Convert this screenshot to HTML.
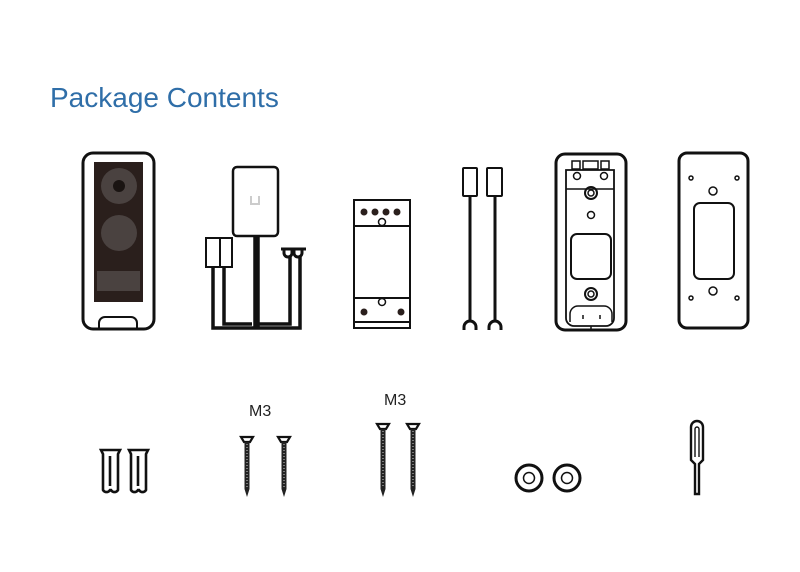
<!DOCTYPE html>
<html><head><style>body{margin:0;background:#fff}svg{display:block}</style></head><body>
<svg width="800" height="572" xmlns="http://www.w3.org/2000/svg" fill="none" stroke="#111" stroke-width="2.5">
<text x="50" y="107" font-family="Liberation Sans, sans-serif" font-size="28" fill="#2f6ea8" stroke="none">Package Contents</text>
<!-- doorbell -->
<rect x="83" y="153" width="71" height="176" rx="10" stroke-width="3"/>
<rect x="94" y="162" width="49" height="140" fill="#2a1f1c" stroke="none"/>
<circle cx="119" cy="186" r="18" fill="#4a4240" stroke="none"/>
<circle cx="119" cy="186" r="6" fill="#1a1412" stroke="none"/>
<circle cx="119" cy="233" r="18" fill="#4a4240" stroke="none"/>
<rect x="97" y="271" width="43" height="20" fill="#4a4240" stroke="none"/>
<path d="M99 328 v-5 a6 6 0 0 1 6 -6 h26 a6 6 0 0 1 6 6 v5" stroke-width="2"/>
<!-- adapter -->
<rect x="233" y="167" width="45" height="69" rx="4" stroke-width="2.5"/>
<path d="M251 196 v8 h8 v-8" stroke="#ccc" stroke-width="2"/>
<rect x="206" y="238" width="14" height="29" stroke-width="2"/><rect x="220" y="238" width="12" height="29" stroke-width="2"/>
<path d="M213 267 V328 H255 V236 M224 267 V324 H252 M258 236 V328 H300 V257 M259 324 H290 V257" stroke-width="3.5"/>
<path d="M281 249 h25 M284 249 v4 a4 4 0 0 0 8 0 v-4 M294 249 v4 a4 4 0 0 0 8 0 v-4" stroke-width="3"/>
<!-- module -->
<rect x="354" y="200" width="56" height="128" stroke-width="2"/>
<path d="M354 226 H410 M354 298 H410 M354 322 H410" stroke-width="2"/>
<g fill="#2a1f1c" stroke="none"><circle cx="364" cy="212" r="3.5"/><circle cx="375" cy="212" r="3.5"/><circle cx="386" cy="212" r="3.5"/><circle cx="397" cy="212" r="3.5"/><circle cx="364" cy="312" r="3.5"/><circle cx="401" cy="312" r="3.5"/></g>
<circle cx="382" cy="222" r="3.5" fill="#fff" stroke-width="1.5"/><circle cx="382" cy="302" r="3.5" fill="#fff" stroke-width="1.5"/>
<!-- wires -->
<rect x="463" y="168" width="14" height="28" rx="1" stroke-width="2"/><rect x="487" y="168" width="15" height="28" rx="1" stroke-width="2"/>
<path d="M470 196 V322 M495 196 V322" stroke-width="3"/>
<path d="M464 330 v-3 a6 6 0 0 1 12 0 v3 M489 330 v-3 a6 6 0 0 1 12 0 v3" stroke-width="3"/>
<!-- back plate -->
<rect x="556" y="154" width="70" height="176" rx="9" stroke-width="3"/>
<path d="M566 318 V170 h48 V318 a8 8 0 0 1 -8 8 h-32 a8 8 0 0 1 -8 -8z" stroke-width="1.8"/>
<path d="M566 189 H614" stroke-width="1.5"/>
<rect x="572" y="161" width="8" height="8" stroke-width="1.5"/><rect x="583" y="161" width="15" height="8" stroke-width="1.5"/><rect x="601" y="161" width="8" height="8" stroke-width="1.5"/>
<circle cx="577" cy="176" r="3.5" stroke-width="1.5"/><circle cx="604" cy="176" r="3.5" stroke-width="1.5"/>
<circle cx="591" cy="193" r="6" stroke-width="2"/><circle cx="591" cy="193" r="3" stroke-width="1.5"/>
<circle cx="591" cy="215" r="3.5" stroke-width="1.5"/>
<rect x="571" y="234" width="40" height="45" rx="6" stroke-width="2"/>
<circle cx="591" cy="294" r="6" stroke-width="2"/><circle cx="591" cy="294" r="3" stroke-width="1.5"/>
<path d="M570 322 v-8 a8 8 0 0 1 8 -8 h26 a8 8 0 0 1 8 8 v8" stroke-width="1.5"/>
<path d="M583 315 v4 M600 315 v4 M591 326 v4" stroke-width="1.5"/>
<!-- flat plate -->
<rect x="679" y="153" width="69" height="175" rx="8" stroke-width="3"/>
<rect x="694" y="203" width="40" height="76" rx="6" stroke-width="2"/>
<g stroke-width="1.5"><circle cx="691" cy="178" r="2"/><circle cx="737" cy="178" r="2"/><circle cx="691" cy="298" r="2"/><circle cx="737" cy="298" r="2"/><circle cx="713" cy="191" r="4"/><circle cx="713" cy="291" r="4"/></g>
<!-- anchors -->
<g stroke-width="2.6">
<path d="M101 450 h19 l-2 4 v36 a4 4 0 0 1 -7 0 h-1 a4 4 0 0 1 -7 0 v-36z"/><path d="M110 456 v30"/>
<path d="M129 450 h19 l-2 4 v36 a4 4 0 0 1 -7 0 h-1 a4 4 0 0 1 -7 0 v-36z"/><path d="M138 456 v30"/>
</g>
<g font-family="Liberation Sans, sans-serif" font-size="16" fill="#222" stroke="none"><text x="249" y="416">M3</text><text x="384" y="405">M3</text></g>
<!-- screws -->
<g stroke-width="2.2">
<path d="M241 437 h12 l-3 5 h-6z"/>
<path d="M278 437 h12 l-3 5 h-6z"/>
<path d="M377 424 h12 l-3 5 h-6z"/>
<path d="M407 424 h12 l-3 5 h-6z"/>
</g>
<g fill="#222" stroke="none">
<path d="M244.5 442 h5 V489 l-2.5 8 l-2.5 -8z"/>
<path d="M281.5 442 h5 V489 l-2.5 8 l-2.5 -8z"/>
<path d="M380.5 429 h5 V489 l-2.5 8 l-2.5 -8z"/>
<path d="M410.5 429 h5 V489 l-2.5 8 l-2.5 -8z"/>
</g>
<g stroke="#fff" stroke-width="0.8" stroke-dasharray="1 2">
<path d="M247 444 V488 M284 444 V488 M383 431 V488 M413 431 V488"/>
</g>
<!-- washers -->
<circle cx="529" cy="478" r="13" stroke-width="3"/><circle cx="529" cy="478" r="5.5" stroke-width="1.5"/>
<circle cx="567" cy="478" r="13" stroke-width="3"/><circle cx="567" cy="478" r="5.5" stroke-width="1.5"/>
<!-- pin -->
<path d="M691 460 V427 a6 6 0 0 1 12 0 V460 l-4 4 V494 h-4 V464z" stroke-width="2.4"/>
<path d="M695 457 V429 a2 2 0 0 1 4 0 V457" stroke-width="1.4"/>
</svg>
</body></html>
